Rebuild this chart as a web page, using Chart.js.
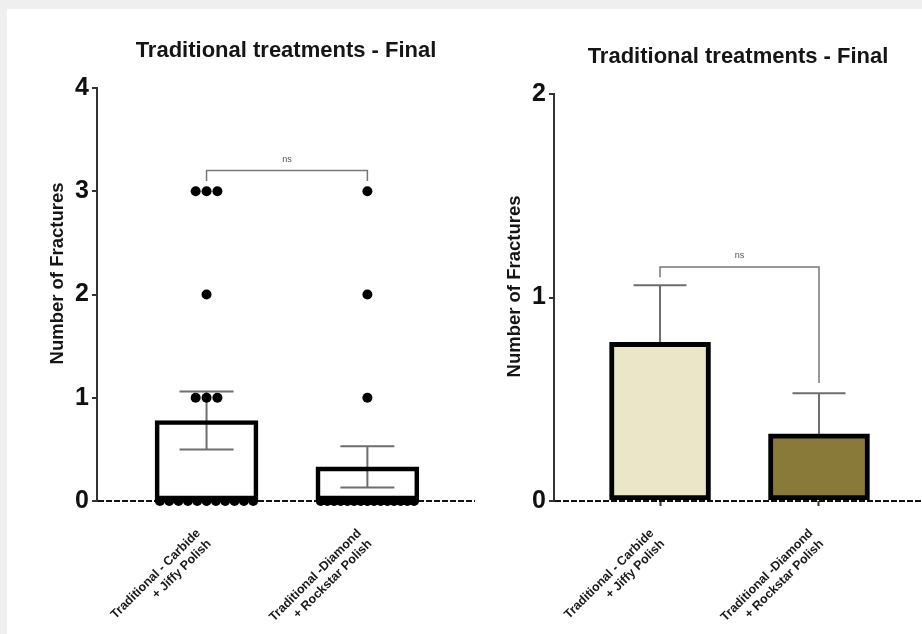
<!DOCTYPE html>
<html>
<head>
<meta charset="utf-8">
<script src="https://cdn.jsdelivr.net/npm/chart.js@4.4.1/dist/chart.umd.min.js"></script>
<style>
  html, body { margin: 0; padding: 0; background: #efefef; width: 922px; height: 634px; overflow: hidden; }
  #panel { position: absolute; left: 7px; top: 9px; width: 915px; height: 625px; background: #fff; }
  #wrapA { position: absolute; left: 7px; top: 9px; width: 473px; height: 625px; }
  #wrapB { position: absolute; left: 480px; top: 9px; width: 442px; height: 625px; }
</style>
</head>
<body>
<div id="panel"></div>
<div id="wrapA"><canvas id="chartScatter"></canvas></div>
<div id="wrapB"><canvas id="chartBars"></canvas></div>
<script>
// data
const chartTitle = 'Traditional treatments - Final';
const yTitle = 'Number of Fractures';
const categories = [
  ['Traditional - Carbide', '+ Jiffy Polish'],
  ['Traditional -Diamond', '+ Rockstar Polish']
];
const carbidePoints = [3, 3, 3, 2, 1, 1, 1, 0, 0, 0, 0, 0, 0, 0, 0, 0, 0, 0];
const diamondPoints = [3, 2, 1, 0, 0, 0, 0, 0, 0, 0, 0, 0, 0, 0, 0, 0, 0, 0];
const means = [0.78, 0.33];
const sems = [0.28, 0.20];
const leftTicks = [0, 1, 2, 3, 4];
const rightTicks = [0, 1, 2];
const barColors = ['#ece6c8', '#8a7a39'];
// significance brackets: [left end, top, right end]
const bracketLeft = [3.1, 3.2, 3.1];
const bracketRight = [1.10, 1.15, 0.58];
const bracketText = 'ns';

// spread equal values side by side like a dot plot
function swarm(values, gx) {
  const counts = {};
  values.forEach(v => counts[v] = (counts[v] || 0) + 1);
  const seen = {};
  return values.map(v => {
    const k = counts[v];
    seen[v] = seen[v] === undefined ? 0 : seen[v] + 1;
    const step = k > 1 ? Math.min(0.0675, 0.58 / (k - 1)) : 0;
    return { x: gx + (seen[v] - (k - 1) / 2) * step, y: v };
  });
}

const extras = {
  id: 'extras',
  beforeDatasetsDraw(chart, args, opts) {
    const { ctx } = chart;
    const x = chart.scales.x, y = chart.scales.y;
    ctx.save();
    ctx.strokeStyle = '#6e6e6e';
    ctx.lineWidth = 2;
    means.forEach((m, i) => {
      const px = x.getPixelForValue(i);
      const hi = y.getPixelForValue(m + sems[i]);
      const lo = y.getPixelForValue(m - sems[i]);
      const half = opts.cap / 2;
      ctx.beginPath();
      ctx.moveTo(px, lo); ctx.lineTo(px, hi);
      ctx.moveTo(px - half, hi); ctx.lineTo(px + half, hi);
      ctx.moveTo(px - half, lo); ctx.lineTo(px + half, lo);
      ctx.stroke();
    });
    ctx.restore();
  },
  afterDraw(chart, args, opts) {
    const { ctx, chartArea } = chart;
    const x = chart.scales.x, y = chart.scales.y;
    const b = opts.bracket;
    const x0 = x.getPixelForValue(0), x1 = x.getPixelForValue(1);
    const top = y.getPixelForValue(b[1]);
    ctx.save();
    ctx.strokeStyle = '#777';
    ctx.lineWidth = 1.5;
    ctx.beginPath();
    ctx.moveTo(x0, y.getPixelForValue(b[0]));
    ctx.lineTo(x0, top);
    ctx.lineTo(x1, top);
    ctx.lineTo(x1, y.getPixelForValue(b[2]));
    ctx.stroke();
    ctx.fillStyle = '#555';
    ctx.font = '9px Arial';
    ctx.textAlign = 'center';
    ctx.textBaseline = 'middle';
    ctx.fillText(bracketText, (x0 + x1) / 2, top - 11);

    // chart title, centred over the plot area
    ctx.fillStyle = '#151515';
    ctx.font = 'bold 22px Arial';
    ctx.fillText(chartTitle, (chartArea.left + chartArea.right) / 2, chartArea.top - 37);

    // y axis title
    ctx.font = 'bold 18.5px Arial';
    ctx.translate(chartArea.left - 39, (chartArea.top + chartArea.bottom) / 2 + opts.yTitleShift);
    ctx.rotate(-Math.PI / 2);
    ctx.fillText(yTitle, 0, 0);
    ctx.restore();
  }
};

function makeOptions(cfg) {
  return {
    responsive: true,
    maintainAspectRatio: false,
    animation: false,
    layout: { padding: { top: cfg.top, left: 0, right: 0, bottom: 0 } },
    plugins: {
      legend: { display: false },
      tooltip: { enabled: false },
      extras: { cap: cfg.cap, bracket: cfg.bracket, yTitleShift: cfg.yTitleShift }
    },
    scales: {
      x: {
        type: 'linear',
        offset: false,
        min: cfg.xMin,
        max: cfg.xMax,
        afterBuildTicks: s => { s.ticks = categories.map((c, i) => ({ value: i })); },
        afterFit: s => { s.height = 133; },
        border: { display: false },
        grid: { offset: false, drawOnChartArea: false, tickLength: 5, tickColor: '#333', tickWidth: 2 },
        ticks: {
          autoSkip: false, minRotation: 45, maxRotation: 45, padding: 20, labelOffset: -8,
          color: '#1a1a1a', font: { family: 'Arial', weight: 'bold', size: 12.5 },
          callback: v => categories[v]
        }
      },
      y: {
        min: 0,
        max: cfg.yMax,
        afterBuildTicks: s => { s.ticks = cfg.ticks.map(v => ({ value: v })); },
        afterFit: s => { s.width = cfg.axisW; },
        // only the zero line is drawn across the plot, dashed
        border: { display: true, color: '#333', width: 2, dash: [6, 2] },
        grid: {
          drawOnChartArea: true,
          color: c => (c.tick && c.tick.value === 0 ? '#111' : 'rgba(0,0,0,0)'),
          lineWidth: 2,
          tickLength: 5, tickColor: '#333', tickWidth: 2, tickBorderDash: []
        },
        ticks: { color: '#111', padding: 3, font: { family: 'Arial', weight: 'bold', size: 25 } }
      }
    }
  };
}

new Chart(document.getElementById('chartScatter'), {
  type: 'bar',
  data: {
    datasets: [
      {
        type: 'scatter',
        order: 0,
        clip: false,
        data: swarm(carbidePoints, 0).concat(swarm(diamondPoints, 1)),
        backgroundColor: '#000',
        borderWidth: 0,
        pointRadius: 5
      },
      {
        type: 'bar',
        order: 1,
        data: means.map((m, i) => ({ x: i, y: m })),
        backgroundColor: 'rgba(255,255,255,0)',
        borderColor: '#000',
        borderWidth: 4,
        borderSkipped: false,
        barThickness: 103
      }
    ]
  },
  options: makeOptions({ top: 79, axisW: 90, xMin: -0.681, xMax: 1.669, yMax: 4, ticks: leftTicks, cap: 54, bracket: bracketLeft, yTitleShift: -21 }),
  plugins: [extras]
});

new Chart(document.getElementById('chartBars'), {
  type: 'bar',
  data: {
    datasets: [
      {
        type: 'bar',
        data: means.map((m, i) => ({ x: i, y: m })),
        backgroundColor: barColors,
        borderColor: '#000',
        borderWidth: 5,
        borderSkipped: false,
        barThickness: 101
      }
    ]
  },
  options: makeOptions({ top: 85, axisW: 74, xMin: -0.667, xMax: 1.648, yMax: 2, ticks: rightTicks, cap: 53, bracket: bracketRight, yTitleShift: -11 }),
  plugins: [extras]
});
</script>
</body>
</html>
